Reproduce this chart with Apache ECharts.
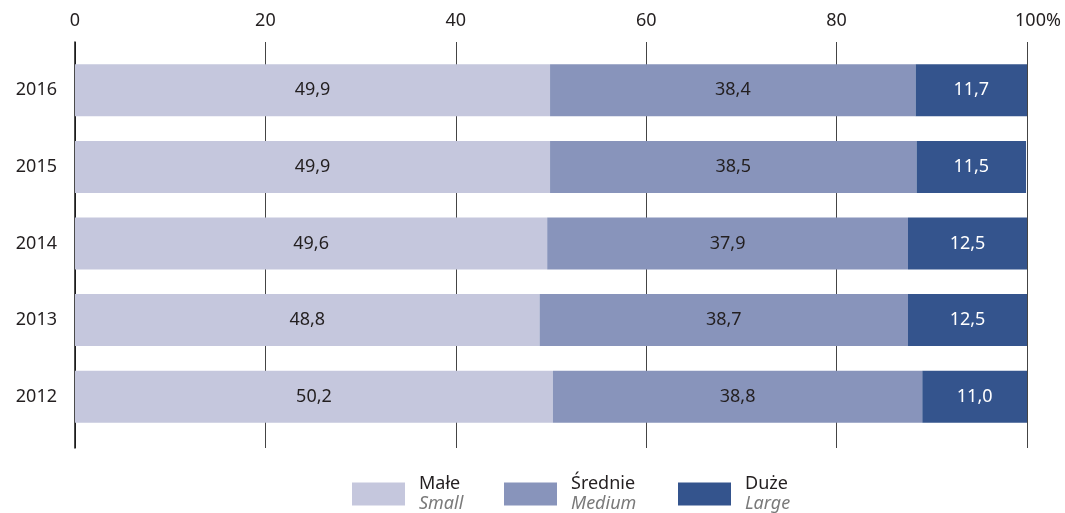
<!DOCTYPE html>
<html><head><meta charset="utf-8">
<script src="https://cdn.jsdelivr.net/npm/echarts@6/dist/echarts.min.js"></script>
<style>html,body{margin:0;padding:0;background:#fff}#c{width:1065px;height:513px}</style>
</head><body><div id="c"></div>
<script>
const years = ['2016','2015','2014','2013','2012'];
const small = [49.9, 49.9, 49.6, 48.8, 50.2];
const medium = [38.4, 38.5, 37.9, 38.7, 38.8];
const large = [11.7, 11.5, 12.5, 12.5, 11.0];
const tickLabels = {0:'0',20:'20',40:'40',60:'60',80:'80',100:'100%'};
const namesPL = ['Małe','Średnie','Duże'];
const namesEN = ['Small','Medium','Large'];
const colors = ['#c5c7dd','#8894bb','#34548d'];
const labelColors = ['#231f20','#231f20','#ffffff'];
const FONT = 'Noto Sans';

const chart = echarts.init(document.getElementById('c'), null, {renderer:'canvas'});
const vals = [small, medium, large];
const series = vals.map((d,i)=>({
  name: namesPL[i], type:'bar', stack:'t', xAxisIndex:1, yAxisIndex:1,
  data: d, barWidth: 52, itemStyle:{color:colors[i]},
  label:{show:true, position:'inside', color:labelColors[i], fontFamily:FONT, fontSize:18,
    formatter: p => p.value.toFixed(1).replace('.',',')},
  emphasis:{disabled:true}
}));
function legend(i, left){
  return {
    data:[namesPL[i]], left:left, top:470, orient:'horizontal',
    itemWidth:53, itemHeight:23, itemGap:0, icon:'rect', selectedMode:false,
    formatter: n => '{a|'+namesPL[i]+'}\n{b|'+namesEN[i]+'}',
    textStyle:{ rich:{
      a:{fontFamily:FONT, fontSize:18, color:'#231f20', lineHeight:20, padding:[0,0,0,9]},
      b:{fontFamily:FONT, fontSize:18, fontStyle:'italic', color:'#7a7a7a', lineHeight:20, padding:[0,0,0,9]}
    }}
  };
}
chart.setOption({
  animation:false,
  grid:[
    {left:75, right:38, top:42, bottom:65},
    {left:75, right:38, top:52, bottom:78}
  ],
  xAxis:[
    {type:'value', gridIndex:0, min:0, max:100, interval:20, position:'top',
      axisLine:{show:false}, axisTick:{show:false},
      axisLabel:{margin:12, fontFamily:FONT, fontSize:18, color:'#231f20',
        formatter:v=> v===100 ? '{p|'+tickLabels[v]+'}' : tickLabels[v],
        rich:{p:{fontFamily:FONT, fontSize:18, color:'#231f20', padding:[0,0,0,22]}}},
      splitLine:{show:true, lineStyle:{color:'#444', width:1}}},
    {type:'value', gridIndex:1, min:0, max:100, show:false}
  ],
  yAxis:[
    {type:'category', gridIndex:0, data:[''], show:true,
      axisLine:{show:true, lineStyle:{color:'#111', width:1.5}}, axisTick:{show:false}, axisLabel:{show:false}},
    {type:'category', gridIndex:1, data:years, inverse:true,
      axisLine:{show:false}, axisTick:{show:false},
      axisLabel:{margin:18, fontFamily:FONT, fontSize:18, color:'#231f20'}}
  ],
  legend:[legend(0,347), legend(1,499), legend(2,673)],
  series: series
});
</script></body></html>
